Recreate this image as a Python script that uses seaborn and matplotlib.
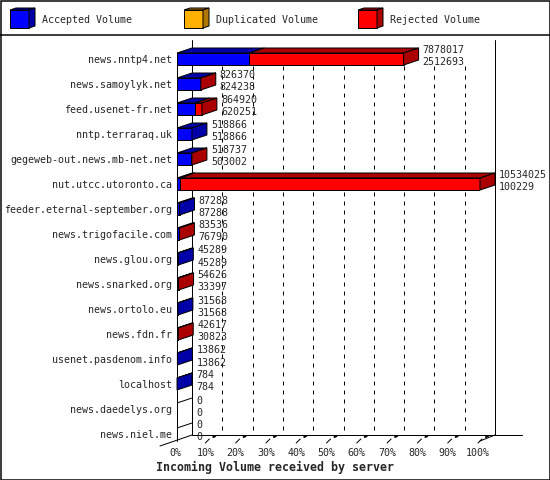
import pandas as pd
import seaborn as sns
import matplotlib.pyplot as plt
from matplotlib.patches import Polygon, Rectangle

# data: total incoming volume and accepted volume per server
servers = ['news.nntp4.net', 'news.samoylyk.net', 'feed.usenet-fr.net', 'nntp.terraraq.uk',
           'gegeweb-out.news.mb-net.net', 'nut.utcc.utoronto.ca', 'feeder.eternal-september.org',
           'news.trigofacile.com', 'news.glou.org', 'news.snarked.org', 'news.ortolo.eu',
           'news.fdn.fr', 'usenet.pasdenom.info', 'localhost', 'news.daedelys.org', 'news.niel.me']
total = [7878017, 826370, 864920, 518866, 518737, 10534025, 87288, 83536,
         45289, 54626, 31568, 42617, 13862, 784, 0, 0]
accepted = [2512693, 824238, 620251, 518866, 503002, 100229, 87288, 76790,
            45289, 33397, 31568, 30823, 13862, 784, 0, 0]
pct_labels = ['0%', '10%', '20%', '30%', '40%', '50%', '60%', '70%', '80%', '90%', '100%']
legend_names = ['Accepted Volume', 'Duplicated Volume', 'Rejected Volume']

df = pd.DataFrame({'server': servers, 'total': total, 'accepted': accepted})

sns.set_style('white')
plt.rcParams['font.family'] = ['DejaVu Sans Mono']

BLUE, DBLUE = '#0000FF', '#0000A8'
ORANGE, DORANGE = '#FFB000', '#B07800'
RED, DRED = '#FF0000', '#AA0000'
LW = 0.72  # one pixel

fig = plt.figure(figsize=(5.5, 4.8), dpi=100)

# overlay in pixel coordinates for the frame and legend
bg = fig.add_axes([0, 0, 1, 1])
bg.set_xlim(0, 550)
bg.set_ylim(480, 0)
bg.axis('off')
bg.add_patch(Rectangle((0.5, 0.5), 549, 479, fill=False, ec='black', lw=LW * 1.5))
bg.plot([0, 550], [35, 35], color='black', lw=LW * 1.5)


def cube(x, col, dark):
    bg.add_patch(Rectangle((x, 10), 19, 18, fc=col, ec='black', lw=LW))
    bg.add_patch(Polygon([(x, 10), (x + 6, 8), (x + 25, 8), (x + 19, 10)], fc=dark, ec='black', lw=LW))
    bg.add_patch(Polygon([(x + 19, 10), (x + 25, 8), (x + 25, 26), (x + 19, 28)], fc=dark, ec='black', lw=LW))


for lx, name, c, d in zip([10, 184, 358], legend_names, [BLUE, ORANGE, RED], [DBLUE, DORANGE, DRED]):
    cube(lx, c, d)
    bg.text(lx + 32, 20, name, fontsize=7.2, va='center', ha='left')

# main plot: front faces of the bars
ax = fig.add_axes([177 / 550, (480 - 446.5) / 480, 303 / 550, 400 / 480])
sns.barplot(data=df, x='total', y='server', orient='h', color=RED, saturation=1,
            width=0.48, edgecolor='black', linewidth=LW, ax=ax, zorder=3)
sns.barplot(data=df, x='accepted', y='server', orient='h', color=BLUE, saturation=1,
            width=0.48, edgecolor='black', linewidth=LW, ax=ax, zorder=3)

xmax = max(total)
ax.set_xlim(0, xmax)
ax.set_ylim(len(servers) - 0.5, -0.5)
for s in ax.spines.values():
    s.set_visible(False)
ax.set_xticks([])
ax.set_xlabel('')
ax.set_ylabel('')
ax.tick_params(axis='y', length=0, pad=3.6, labelsize=7.2)
ax.patch.set_alpha(0)


def px(n):
    return n * xmax / 303


def yd(p):
    return (p - 46.5) / 25 - 0.5


DX, DY = px(15), 0.2

# walls, floor, grid
kw = dict(color='black', lw=LW, clip_on=False)
ax.plot([DX, DX], [yd(40), yd(435)], **kw)
ax.plot([0, 0], [yd(53), yd(441)], **kw)
ax.plot([xmax + DX, xmax + DX], [yd(40), yd(435)], **kw)
ax.plot([DX, xmax + px(42)], [yd(435), yd(435)], **kw)
ax.plot([px(-17), DX], [yd(446), yd(435)], **kw)
ax.plot([xmax, xmax + DX], [yd(441), yd(435)], **kw)
for k in range(1, 10):
    gx = k * xmax / 10 + DX
    ax.plot([gx, gx], [yd(66), yd(435)], color='black', lw=LW, ls=(0, (4, 5)),
            clip_on=False, zorder=1)
for k in range(1, 11):
    tx = k * xmax / 10
    ax.plot([tx - px(2), tx + px(2)], [yd(443), yd(439)], **kw)
    ax.plot([tx + px(6), tx + px(8)], [yd(437), yd(436)], color='black', lw=LW * 2, clip_on=False)
for k, lab in enumerate(pct_labels):
    ax.text(k * xmax / 10 - px(2), yd(455.5), lab, fontsize=7.2, ha='center', va='baseline', clip_on=False)

# 3d top and side faces
for i, (t, a) in enumerate(zip(total, accepted)):
    yt, yb = i - 0.24, i + 0.24
    segs = [(0, a, DBLUE), (a, t, DRED)]
    for x0, x1, dark in segs:
        if x1 > x0 or (t == 0 and x0 == 0 and dark == DBLUE):
            ax.add_patch(Polygon([(x0, yt), (x0 + DX, yt - DY), (x1 + DX, yt - DY), (x1, yt)],
                                 fc=dark, ec='black', lw=LW, zorder=4, clip_on=False))
    if t > 0:
        side = DRED if t > a else DBLUE
        ax.add_patch(Polygon([(t, yt), (t + DX, yt - DY), (t + DX, yb - DY), (t, yb)],
                             fc=side, ec='black', lw=LW, zorder=4, clip_on=False))
    ax.text(t + DX + px(4), i - 0.22, str(t), fontsize=7.2, va='baseline', ha='left', clip_on=False)
    ax.text(t + DX + px(4), i + 0.26, str(a), fontsize=7.2, va='baseline', ha='left', clip_on=False)

fig.text(274.5 / 550, (480 - 467) / 480, 'Incoming Volume received by server',
         fontsize=8.4, fontweight='bold', ha='center', va='center')

plt.savefig('out.png', dpi=100)
